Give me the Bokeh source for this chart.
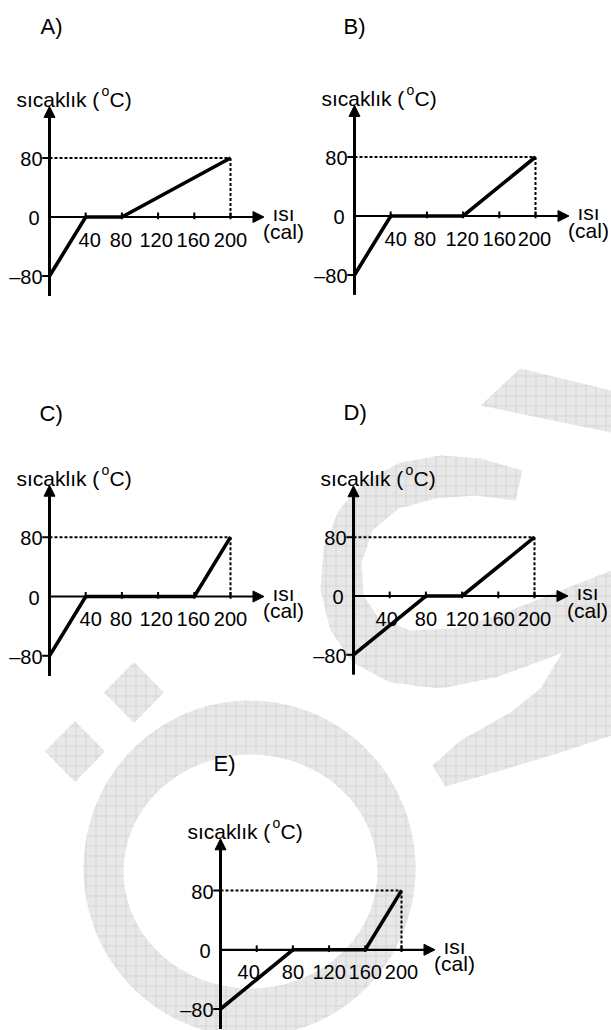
import numpy as np
from bokeh.plotting import figure
from bokeh.models import Range1d, Arrow, NormalHead
from bokeh.core.properties import value
from bokeh.embed import file_html
from bokeh.resources import INLINE

# ---------------- data ----------------
options = ["A", "B", "C", "D", "E"]
heat_ticks = [40, 80, 120, 160, 200]
heat_tick_labels = ["40", "80", "120", "160", "200"]
temp_ticks = [80, 0, -80]
temp_tick_labels = ["80", "0", "\u201380"]

heat_A = [0, 40, 80, 200]
temp_A = [-80, 0, 0, 80]
heat_B = [0, 40, 120, 200]
temp_B = [-80, 0, 0, 80]
heat_C = [0, 40, 160, 200]
temp_C = [-80, 0, 0, 80]
heat_D = [0, 80, 120, 200]
temp_D = [-80, 0, 0, 80]
heat_E = [0, 80, 160, 200]
temp_E = [-80, 0, 0, 80]

final_heat = 200
final_temp = 80
y_axis_title = "s\u0131cakl\u0131k ("
y_axis_unit = "C)"
x_axis_title = "\u0131s\u0131"
x_axis_unit = "(cal)"

series = {
    "A": (heat_A, temp_A),
    "B": (heat_B, temp_B),
    "C": (heat_C, temp_C),
    "D": (heat_D, temp_D),
    "E": (heat_E, temp_E),
}

# ---------------- layout (pixels) ----------------
W, H = 611, 1030
FONT = "Liberation Sans"
FS = "20px"
FT = "21px"
PANELS = {
    "A": dict(ox=49, oy=216.5, sx=0.905, sy=0.7375, letter=(40, 26), xoff=[4, -1, -2, -1, 0]),
    "B": dict(ox=354, oy=215.5, sx=0.905, sy=0.7375, letter=(343, 26), xoff=[5, -2, -1, 0, -1]),
    "C": dict(ox=49, oy=596, sx=0.905, sy=0.742, letter=(39, 413), xoff=[5, -1, -2, -1, 0]),
    "D": dict(ox=353, oy=595.5, sx=0.905, sy=0.735, letter=(343, 412), xoff=[-3, 0, 0, 0, 0]),
    "E": dict(ox=220, oy=949.3, sx=0.905, sy=0.74, letter=(213, 763), xoff=[-8, 0, 0, 0, 0]),
}

p = figure(width=W, height=H, output_backend="svg", toolbar_location=None,
           x_range=Range1d(0, W), y_range=Range1d(H, 0),
           x_axis_location=None, y_axis_location=None, min_border=0,
           outline_line_color=None)
p.xgrid.visible = False
p.ygrid.visible = False
p.background_fill_color = "white"

# ---------------- watermark (decoration) ----------------
wm = dict(fill_color="#e8e8e8", line_color=None, hatch_pattern="+",
          hatch_color="#d5d5d5", hatch_scale=10, hatch_weight=1)
t = np.linspace(0, 2 * np.pi, 120)
ox_, oy_ = 249 + 166 * np.cos(t), 868 + 168 * np.sin(t)
ix_, iy_ = 250 + 127 * np.cos(t), 871 + 117 * np.sin(t)
p.multi_polygons(xs=[[[list(ox_), list(ix_)]]], ys=[[[list(oy_), list(iy_)]]], **wm)
# two dots of the O-umlaut
for cx, cy in [(133.5, 692), (74.5, 751)]:
    p.patch([cx - 30, cx, cx + 30, cx], [cy, cy - 30.5, cy, cy + 30.5], **wm)
# S pieces
p.patch([480, 520, 611, 611], [405, 368, 390, 432], **wm)
s_outer = [(522, 470), (480, 458), (440, 455), (400, 462), (365, 480), (338, 510),
           (323, 548), (320, 590), (330, 630), (352, 662), (390, 682), (440, 688),
           (495, 677), (550, 657), (611, 630)]
s_inner = [(611, 570), (560, 590), (505, 612), (455, 628), (410, 630), (378, 618),
           (363, 595), (361, 562), (372, 530), (398, 508), (435, 498), (475, 495), (515, 500)]
pts = s_outer + s_inner
p.patch([q[0] for q in pts], [q[1] for q in pts], **wm)
s_low = [(611, 600), (611, 735), (560, 752), (500, 770), (445, 786), (432, 765),
         (460, 740), (510, 712), (540, 688), (560, 655), (572, 620), (590, 598)]
p.patch([q[0] for q in s_low], [q[1] for q in s_low], **wm)

# ---------------- panels ----------------
for k in options:
    cfg = PANELS[k]
    ox, oy, sx, sy = cfg["ox"], cfg["oy"], cfg["sx"], cfg["sy"]
    p.extra_x_ranges[k] = Range1d((0 - ox) / sx, (W - ox) / sx)
    p.extra_y_ranges[k] = Range1d((oy - H) / sy, (oy - 0) / sy)
    kw = dict(x_range_name=k, y_range_name=k)
    heat, temp = series[k]

    # dotted guides
    p.line([0, final_heat], [final_temp, final_temp], line_color="black",
           line_width=2, line_dash="3 2", **kw)
    p.line([final_heat, final_heat], [final_temp, 0], line_color="black",
           line_width=2, line_dash="3 2", **kw)

    # axes with arrows
    p.add_layout(Arrow(end=NormalHead(size=11, fill_color="black", line_color="black"),
                       x_start=0, y_start=-107, x_end=0, y_end=150,
                       line_width=3, line_color="black", **kw))
    p.add_layout(Arrow(end=NormalHead(size=11, fill_color="black", line_color="black"),
                       x_start=0, y_start=0, x_end=237, y_end=0,
                       line_width=2.2, line_color="black", **kw))
    # ticks
    p.segment(x0=heat_ticks, y0=[-3] * 5, x1=heat_ticks, y1=[6] * 5,
              line_color="black", line_width=2, **kw)
    p.segment(x0=[-8, -8], y0=[80, -80], x1=[0, 0], y1=[80, -80],
              line_color="black", line_width=2, **kw)

    # data
    p.line(heat, temp, line_color="black", line_width=3.6, line_join="miter", **kw)

    # tick labels
    p.text(x=[0, 0, 0], y=temp_ticks, text=temp_tick_labels, x_offset=[-7, -10, -7],
           y_offset=[1, 1, 1],
           text_align="right", text_baseline="middle", text_font=value(FONT),
           text_font_size=FS, text_color="black", **kw)
    p.text(x=heat_ticks, y=[0] * 5, text=heat_tick_labels, x_offset=cfg["xoff"],
           y_offset=[22.5] * 5, text_align="center", text_baseline="alphabetic",
           text_font=value(FONT), text_font_size=FS, text_color="black", **kw)

    # axis titles
    p.text(x=[final_heat], y=[0], text=[x_axis_title], x_offset=[53], y_offset=[-3.5],
           text_align="center", text_baseline="alphabetic", text_font=value(FONT),
           text_font_size=FT, text_color="black", **kw)
    p.text(x=[final_heat], y=[0], text=[x_axis_unit], x_offset=[53], y_offset=[14],
           text_align="center", text_baseline="alphabetic", text_font=value(FONT),
           text_font_size=FT, text_color="black", **kw)
    p.text(x=[0], y=[150], text=[y_axis_title], x_offset=[-33], y_offset=[-7],
           text_align="left", text_baseline="alphabetic", text_font=value(FONT),
           text_font_size=FT, text_color="black", **kw)
    p.text(x=[0], y=[150], text=["o"], x_offset=[52], y_offset=[-15.5],
           text_align="left", text_baseline="alphabetic", text_font=value(FONT),
           text_font_size="14px", text_color="black", **kw)
    p.text(x=[0], y=[150], text=[y_axis_unit], x_offset=[60], y_offset=[-7],
           text_align="left", text_baseline="alphabetic", text_font=value(FONT),
           text_font_size=FT, text_color="black", **kw)

    # option letter
    lx, ly = cfg["letter"]
    p.text(x=[lx], y=[ly], text=[k + ")"], text_align="left", text_baseline="alphabetic",
           text_font=value(FONT), text_font_size="22px", text_color="black")

open("out.html", "w").write(file_html(p, INLINE))
